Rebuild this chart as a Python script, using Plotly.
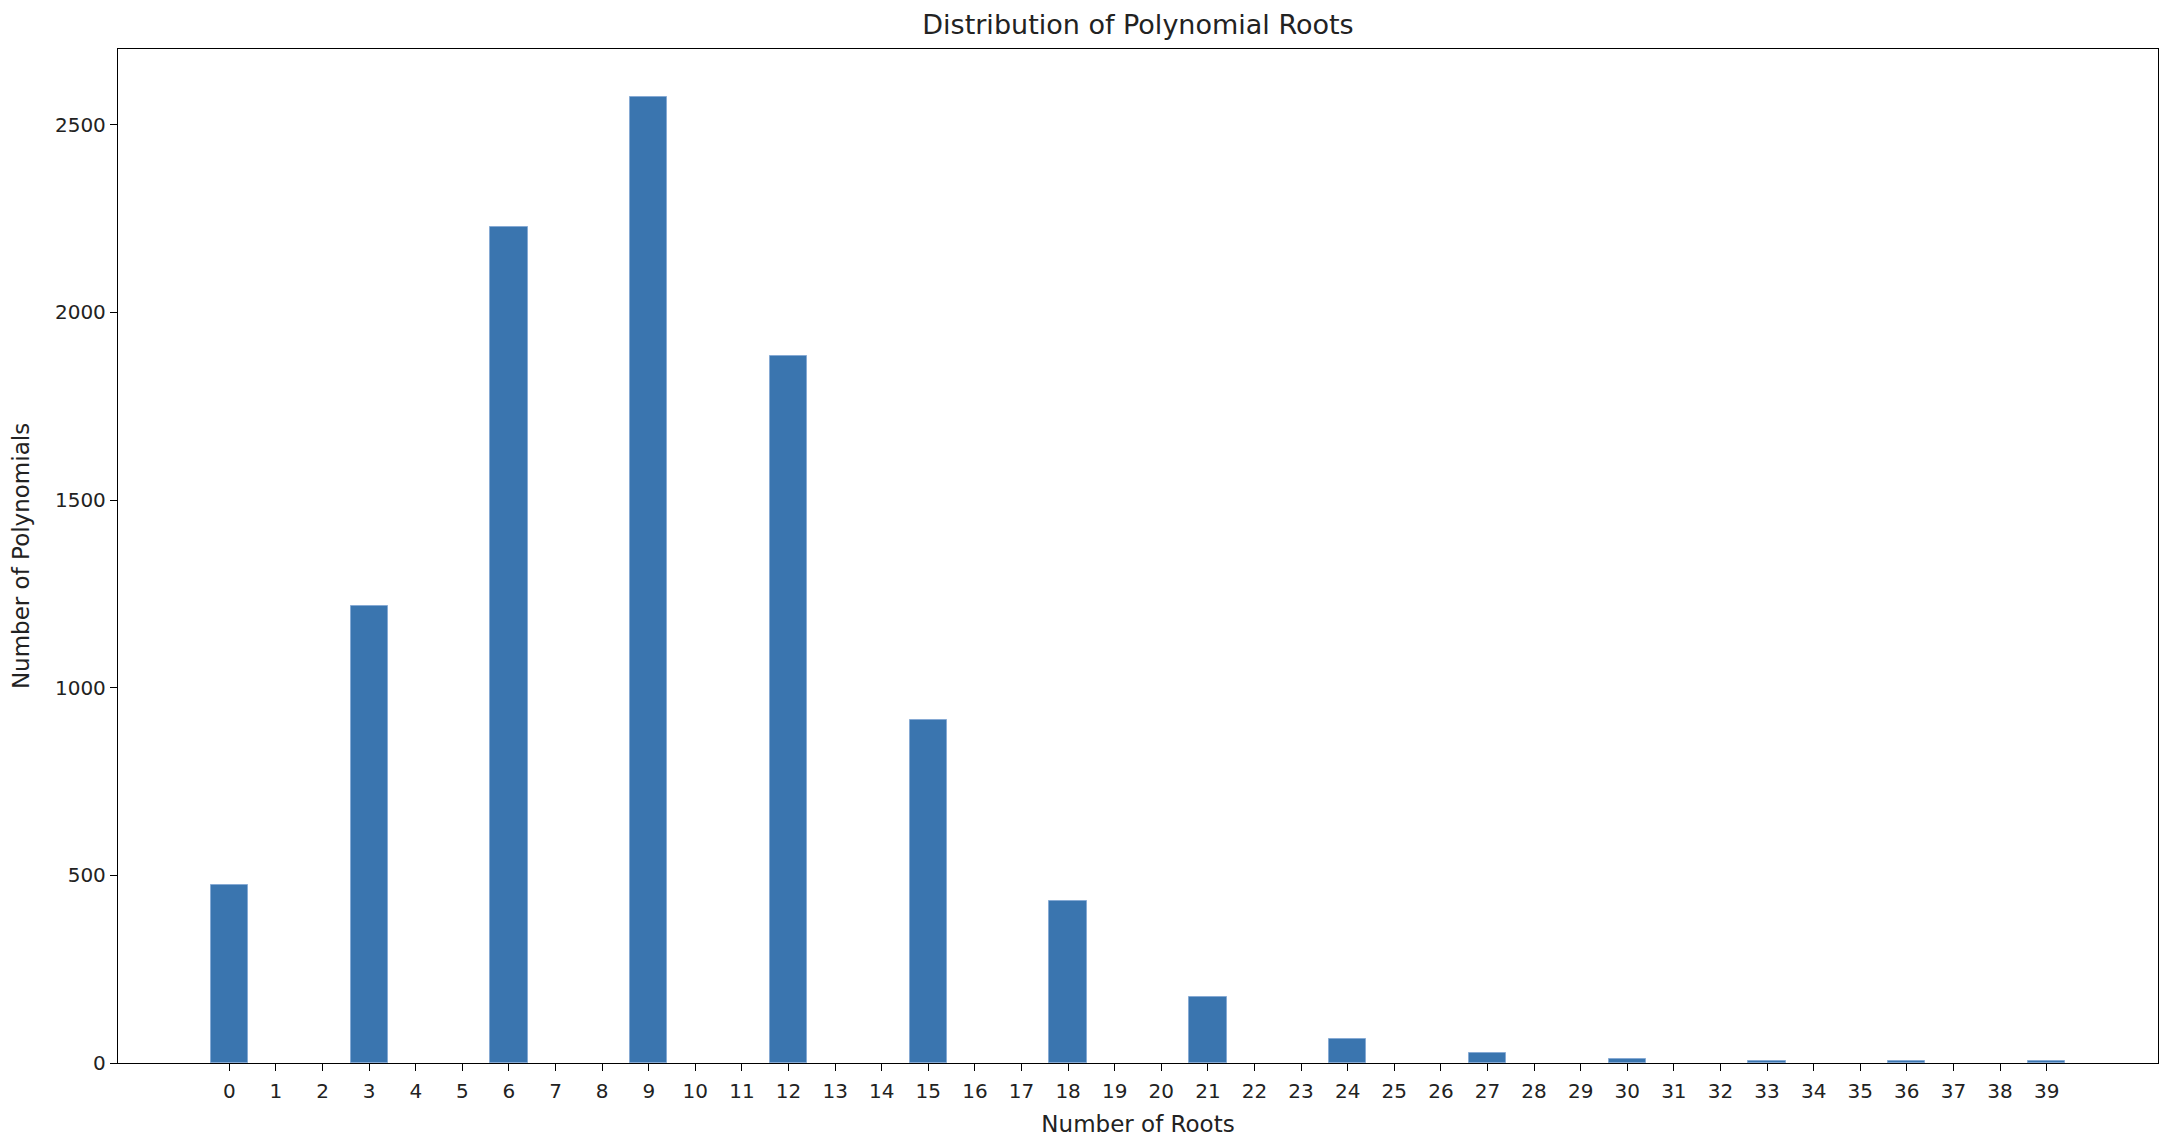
import plotly.graph_objects as go

num_roots = list(range(40))
counts = [474, 0, 0, 1219, 0, 0, 2227, 0, 0, 2573,
          0, 0, 1885, 0, 0, 913, 0, 0, 431, 0,
          0, 176, 0, 0, 65, 0, 0, 27, 0, 0,
          12, 0, 0, 5, 0, 0, 5, 0, 0, 5]
y_ticks = [0, 500, 1000, 1500, 2000, 2500]

FONT = "DejaVu Sans"

fig = go.Figure(go.Bar(
    x=num_roots, y=counts, width=0.8,
    marker=dict(color="#3a75af",
                line=dict(color="#86aad4", width=[1 if c > 0 else 0 for c in counts])),
))

fig.update_layout(
    width=2170, height=1148,
    margin=dict(l=110, r=20, t=41, b=93, autoexpand=False),
    plot_bgcolor="white", paper_bgcolor="white",
    font=dict(family=FONT, size=20, color="#222222"),
    showlegend=False,
    title=dict(text="Distribution of Polynomial Roots", x=(110 + 2150) / 2 / 2170,
               xanchor="center", y=1 - 17 / 1148, yanchor="middle",
               font=dict(family=FONT, size=27, color="#222222")),
    bargap=0,
)
fig.update_xaxes(
    range=[-2.39, 41.39], tickmode="array", tickvals=num_roots,
    ticktext=[str(v) for v in num_roots],
    ticks="outside", ticklen=7, tickwidth=1.3, tickcolor="black",
    ticklabelstandoff=3,
    showline=True, linecolor="black", linewidth=1.3, mirror=True,
    showgrid=False, zeroline=False, automargin=False,
    title=dict(text="Number of Roots", standoff=13, font=dict(size=23)),
)
fig.update_yaxes(
    range=[0, 2702], tickmode="array", tickvals=y_ticks,
    ticktext=[str(v) for v in y_ticks],
    ticks="outside", ticklen=7, tickwidth=1.3, tickcolor="black",
    showline=True, linecolor="black", linewidth=1.3, mirror=True,
    showgrid=False, zeroline=False, automargin=False,
    title=dict(text="Number of Polynomials", standoff=20, font=dict(size=23)),
)

fig.write_html("out.html")
